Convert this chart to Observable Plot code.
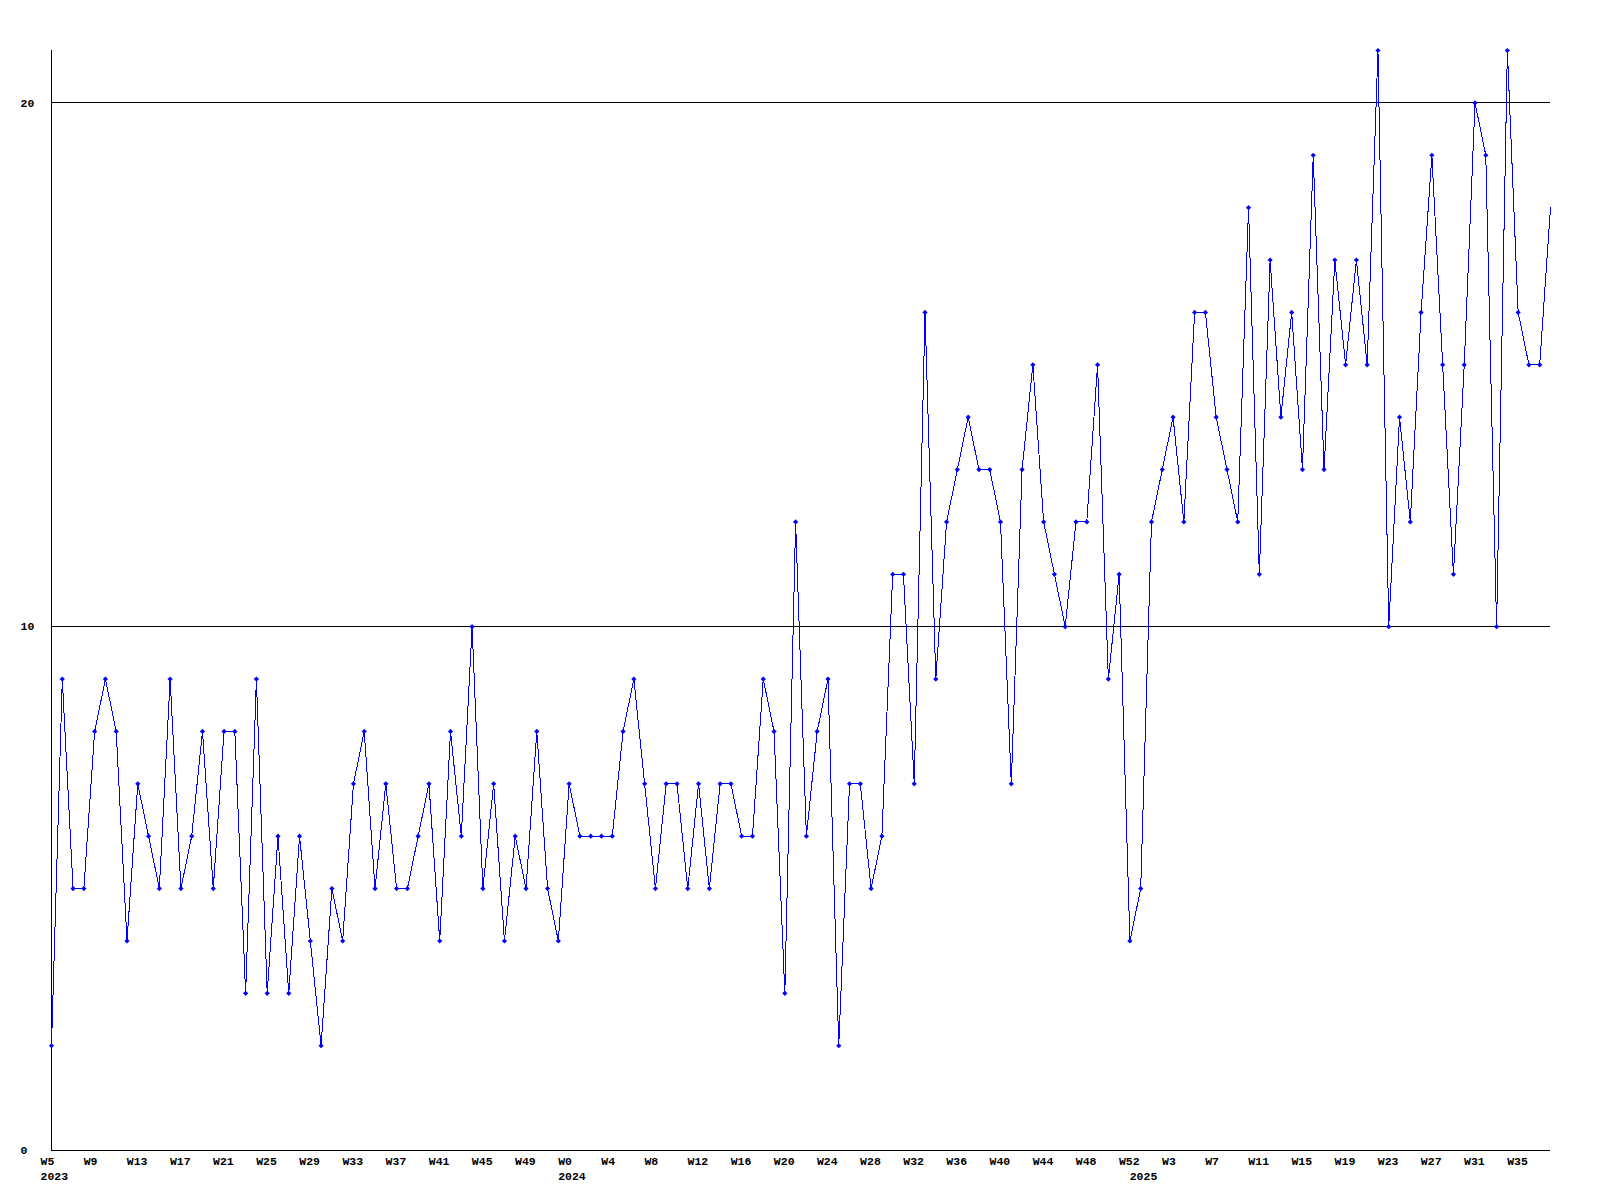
<!DOCTYPE html>
<html><head><meta charset="utf-8">
<script src="https://cdn.jsdelivr.net/npm/d3@7"></script>
<script src="https://cdn.jsdelivr.net/npm/@observablehq/plot@0.6"></script>
<style>html,body{margin:0;padding:0;background:#fff}</style>
</head><body><div id="chart"></div>
<script>
const years = [2023, 2024, 2025];
const firstWeeks = [5, 0, 0];
const values2023 = [2,9,5,5,8,9,8,4,7,6,5,9,5,6,8,5,8,8,3,9,3,6,3,6,4,2,5,4,7,8,5,7,5,5,6,7,4,8,6,10,5,7,4,6,5,8,5,4];
const values2024 = [7,6,6,6,6,8,9,7,5,7,7,5,7,5,7,7,6,6,9,8,3,12,6,8,9,2,7,7,5,6,11,11,7,16,9,12,13,14,13,13,12,7,13,15,12,11,10,12,12,15,9,11,4];
const values2025 = [5,12,13,14,12,16,16,14,13,12,18,11,17,14,16,13,19,13,17,15,17,15,21,10,14,12,16,19,15,11,15,20,19,10,21,16,15,15,18];
const yTicks = [0, 10, 20];
const gridValues = [10, 20];

const series = [values2023, values2024, values2025];
const data = [];
series.forEach((vals, k) => vals.forEach((v, j) => data.push({i: data.length, year: years[k], week: firstWeeks[k] + j, v})));
const tickIdx = data.filter(d => d.i % 4 === 0).map(d => d.i);
const yearIdx = years.map(y => data.find(d => d.year === y).i);
const weekLabel = new Map(data.map(d => [d.i, "W" + d.week]));
const yearLabel = new Map(data.map(d => [d.i, String(d.year)]));
const diamond = {draw(ctx) { const r = 2.6; ctx.moveTo(0, -r); ctx.lineTo(r, 0); ctx.lineTo(0, r); ctx.lineTo(-r, 0); ctx.closePath(); }};

const chart = Plot.plot({
  width: 1600, height: 1200,
  marginLeft: 51, marginRight: 50, marginTop: 50, marginBottom: 50,
  style: {fontFamily: "'Liberation Mono', 'DejaVu Sans Mono', monospace", fontSize: "11.5px", fontWeight: "bold", background: "#fff", color: "#000"},
  x: {type: "linear", domain: [0, data.length - 1], label: null},
  y: {domain: [0, 21], label: null},
  marks: [
    Plot.ruleY(gridValues, {stroke: "#000", strokeWidth: 1, shapeRendering: "crispEdges"}),
    Plot.ruleY([0], {stroke: "#000", strokeWidth: 1, shapeRendering: "crispEdges"}),
    Plot.ruleX([0], {stroke: "#000", strokeWidth: 1, shapeRendering: "crispEdges"}),
    Plot.axisY({ticks: yTicks, tickSize: 0, tickPadding: 31, textAnchor: "start", tickFormat: d => String(d), label: null}),
    Plot.axisX({ticks: tickIdx, tickSize: 0, tickPadding: 6, textAnchor: "start", dx: -11, tickFormat: i => weekLabel.get(i), label: null}),
    Plot.axisX({ticks: yearIdx, tickSize: 0, tickPadding: 21, textAnchor: "start", dx: -11, tickFormat: i => yearLabel.get(i), label: null}),
    Plot.line(data, {x: "i", y: "v", stroke: "#0000ff", strokeWidth: 1, shapeRendering: "crispEdges"}),
    Plot.dot(data.slice(0, -1), {x: "i", y: "v", symbol: diamond, fill: "#0000ff", stroke: "none"})
  ]
});
document.getElementById("chart").append(chart);
</script>
</body></html>
